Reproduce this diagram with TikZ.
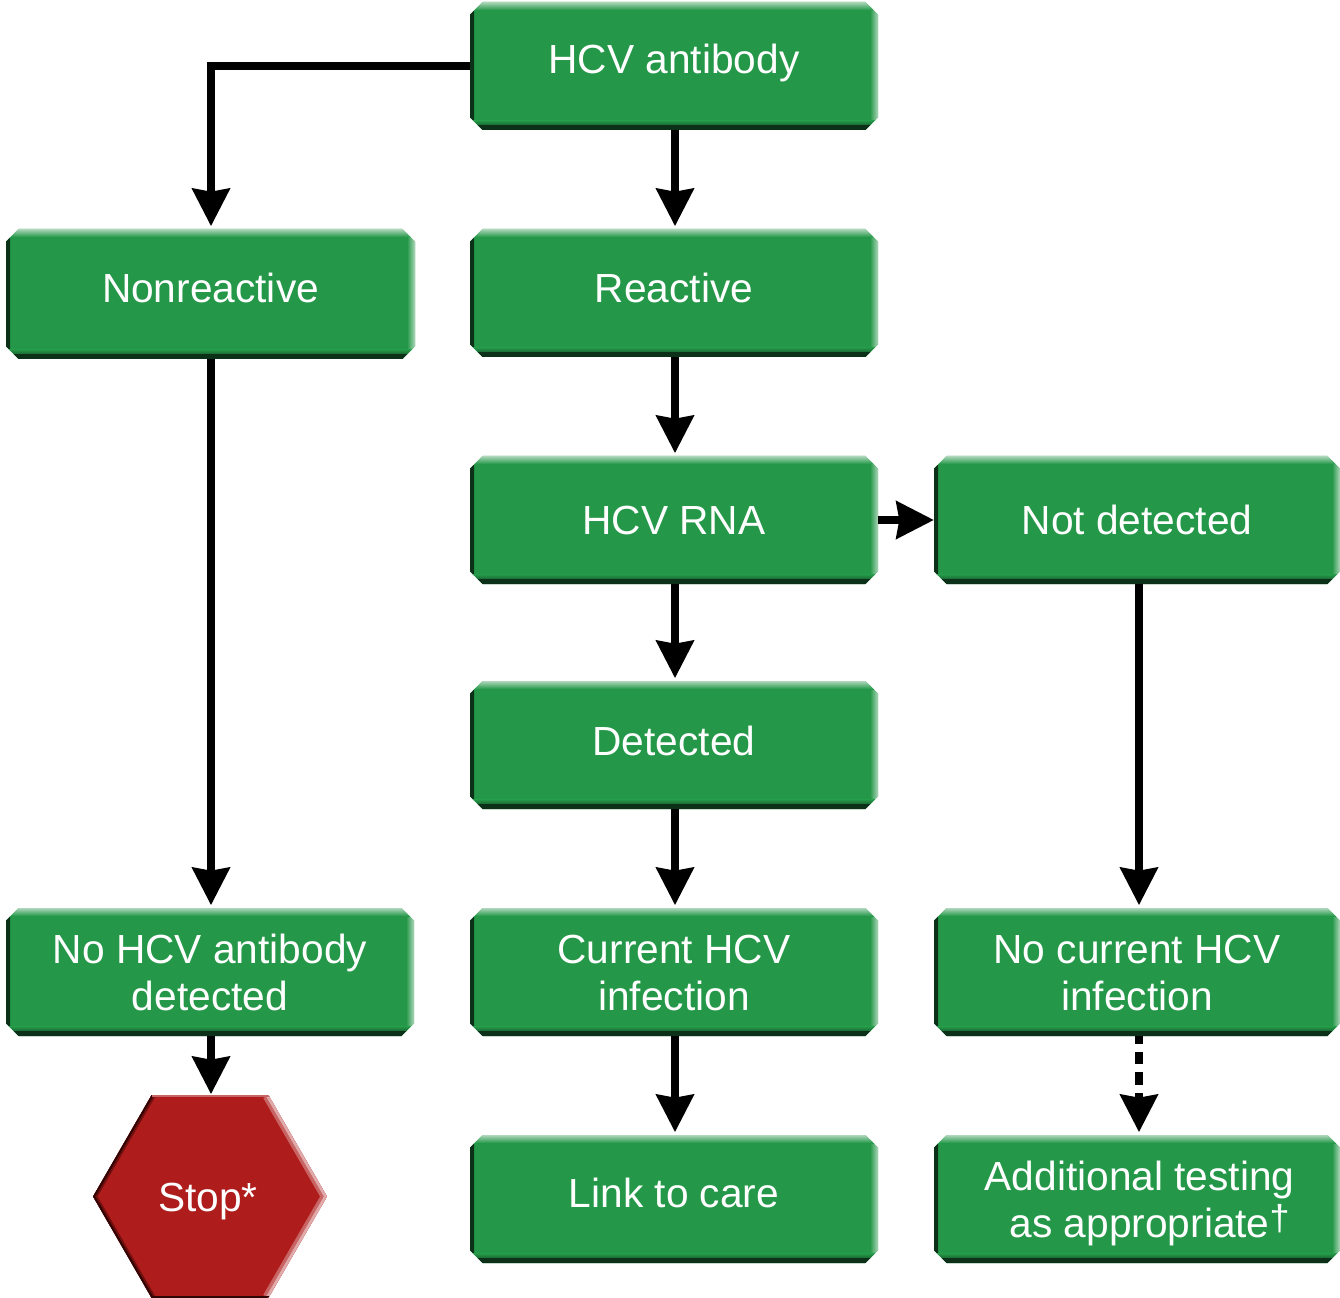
\documentclass[tikz,border=0pt]{standalone}
\usepackage{fontspec}
\setmainfont{Liberation Sans}
\usetikzlibrary{arrows.meta,shapes.misc,shapes.geometric}
\definecolor{boxgreen}{RGB}{36,152,72}
\definecolor{boxlight}{RGB}{175,215,188}
\definecolor{boxdark}{RGB}{12,48,24}
\definecolor{hexred}{RGB}{174,28,28}
\definecolor{hexdark}{RGB}{50,5,5}
\definecolor{hexmiddark}{RGB}{115,15,15}
\definecolor{hexlight}{RGB}{225,170,170}
\definecolor{hexmid}{RGB}{200,100,100}
\newcommand\lblone[2]{\raisebox{-#1}[0pt][0pt]{#2}}
\newcommand\lbltwo[3]{\raisebox{-#1}[0pt][0pt]{\begin{tabular}[b]{@{}c@{}}#2\\#3\end{tabular}}}
\tikzset{
  x=0.75pt,y=-0.75pt,
  gbox/.style={chamfered rectangle,
    chamfered rectangle xsep=9.5pt,chamfered rectangle ysep=9.5pt,
    minimum width=306pt,minimum height=96pt,inner sep=0pt,outer sep=0pt,
    fill=boxgreen,text=white,
    font=\fontsize{30.5}{35.25}\selectfont,
    path picture={
      \shade[left color=boxdark,right color=boxgreen]
        (path picture bounding box.south west) rectangle ([xshift=3pt]path picture bounding box.north west);
      \shade[right color=boxlight,left color=boxgreen]
        (path picture bounding box.south east) rectangle ([xshift=-6pt]path picture bounding box.north east);
      \shade[top color=boxlight,bottom color=boxgreen]
        (path picture bounding box.north west) rectangle ([yshift=-6pt]path picture bounding box.north east);
      \shade[bottom color=boxdark,top color=boxgreen]
        (path picture bounding box.south west) rectangle ([yshift=7pt]path picture bounding box.south east);
      \fill[boxdark] (path picture bounding box.south west) rectangle ([yshift=3.5pt]path picture bounding box.south east);
    }},
  stophex/.style={regular polygon,regular polygon sides=6,minimum size=175.5pt,
    inner sep=0pt,outer sep=0pt,fill=hexred,text=white,
    font=\fontsize{30.5}{35}\selectfont},
  flow/.style={line width=6.5pt,draw=black,-{Stealth[length=28pt,width=27.5pt,inset=2pt]},shorten >=2pt},
  flowdash/.style={flow,dash pattern=on 9.5pt off 6pt,dash phase=3.75pt}
}
\begin{document}
\begin{tikzpicture}
\useasboundingbox (0,0) rectangle (1340,1298);
\node[gbox] (ab) at (674,66) {\lblone{5.6pt}{HCV antibody}};
\node[gbox,minimum width=306.75pt,minimum height=97.5pt] (nr) at (210.5,294) {\lblone{6.75pt}{Nonreactive}};
\node[gbox] (re) at (674,293) {\lblone{7.5pt}{Reactive}};
\node[gbox] (rna) at (674,520) {\lblone{10.9pt}{HCV RNA}};
\node[gbox,minimum width=304.5pt] (nd) at (1137,520) {\lblone{10.9pt}{Not detected}};
\node[gbox] (de) at (674,745) {\lblone{7.9pt}{Detected}};
\node[gbox] (noab) at (210,972) {\lbltwo{29pt}{No HCV antibody}{detected}};
\node[gbox] (cur) at (674,972) {\lbltwo{29pt}{Current HCV}{infection}};
\node[gbox,minimum width=304.5pt] (nocur) at (1137,972) {\lbltwo{29pt}{No current HCV}{infection}};
\node[gbox] (link) at (674,1199) {\lblone{6.4pt}{Link to care}};
\node[gbox,minimum width=304.5pt] (add) at (1137,1199) {\lbltwo{28.5pt}{\hspace*{4pt}Additional testing}{\hspace*{19pt}as appropriate\raisebox{5pt}{\fontsize{27}{27}\selectfont †}}};
\node[stophex] (stop) at (210,1196.5) {\hspace*{-3pt}\lblone{11.6pt}{Stop*}};
\begin{scope}
  \clip (stop.corner 1) -- (stop.corner 2) -- (stop.corner 3) -- (stop.corner 4) -- (stop.corner 5) -- (stop.corner 6) -- cycle;
  \draw[hexmid,line width=9pt] (stop.corner 1) -- (stop.corner 6) -- (stop.corner 5);
  \draw[hexlight,line width=4pt] (stop.corner 1) -- (stop.corner 6) -- (stop.corner 5);
  \draw[hexmiddark,line width=6pt] (stop.corner 2) -- (stop.corner 3) -- (stop.corner 4);
  \draw[hexdark,line width=3pt] (stop.corner 2) -- (stop.corner 3) -- (stop.corner 4);
  \draw[hexmid,line width=2pt] (stop.corner 2) -- (stop.corner 1);
  \draw[hexdark,line width=2pt] (stop.corner 4) -- (stop.corner 5);
\end{scope}
\coordinate (abdown) at (675,130);
\coordinate (redown) at (675,357);
\coordinate (rnadown) at (675,584);
\coordinate (dedown) at (675,809);
\coordinate (curdown) at (675,1036);
\coordinate (reup) at (675,229);
\coordinate (rnaup) at (675,456);
\coordinate (deup) at (675,681);
\coordinate (curup) at (675,908);
\coordinate (linkup) at (675,1135);
\coordinate (nrdown) at (211,359);
\coordinate (noabup) at (211,908);
\coordinate (noabdown) at (211,1036);
\coordinate (stopup) at (211,1097);
\coordinate (nrup) at (211,229);
\coordinate (nddown) at (1139,584);
\coordinate (nocurup) at (1139,908);
\coordinate (nocurdown) at (1139,1036);
\coordinate (addup) at (1139,1135);
\draw[flow,line join=miter] (ab.west) -| (nrup);
\draw[flow] (abdown) -- (reup);
\draw[flow] (redown) -- (rnaup);
\draw[flow] (rnadown) -- (deup);
\draw[flow] (dedown) -- (curup);
\draw[flow] (curdown) -- (linkup);
\draw[flow] (nrdown) -- (noabup);
\draw[flow] (noabdown) -- (stopup);
\draw[flow,shorten >=0pt] (rna.east) -- (nd.west);
\draw[flow] (nddown) -- (nocurup);
\draw[flowdash] (nocurdown) -- (addup);
\end{tikzpicture}
\end{document}
